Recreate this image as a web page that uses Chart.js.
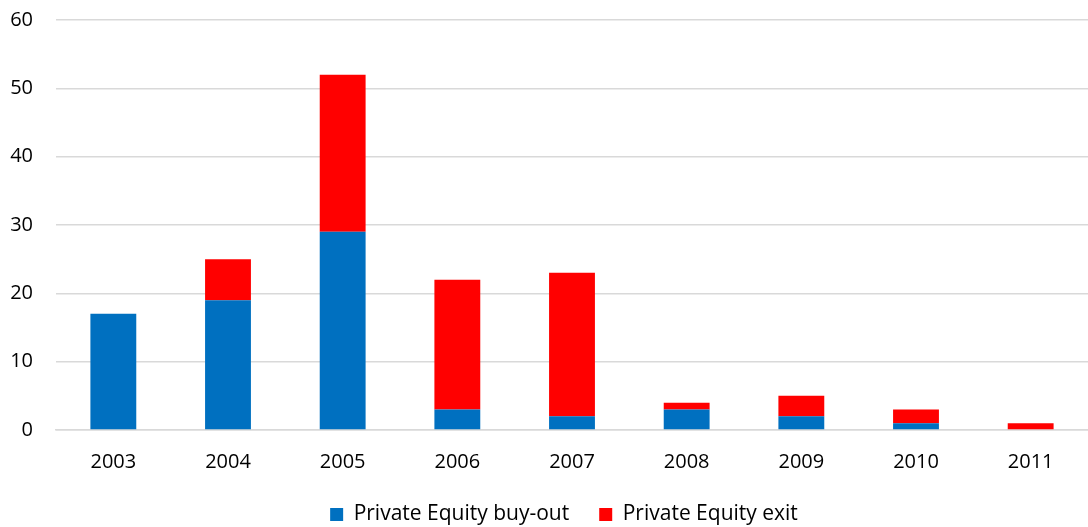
<!DOCTYPE html>
<html>
<head>
<meta charset="utf-8">
<script src="https://cdn.jsdelivr.net/npm/chart.js@4/dist/chart.umd.min.js"></script>
<style>
html,body{margin:0;padding:0;background:#fff;}
#wrap{width:1088px;height:527px;position:relative;}
</style>
</head>
<body>
<div id="wrap"><canvas id="c" width="1088" height="527"></canvas></div>
<script>
const years = ['2003','2004','2005','2006','2007','2008','2009','2010','2011'];
const buyout = [17, 19, 29, 3, 2, 3, 2, 1, 0];
const exitVals = [0, 6, 23, 19, 21, 1, 3, 2, 1];
const yTicks = [0, 10, 20, 30, 40, 50, 60];

const FONT = "'Open Sans', 'Liberation Sans', sans-serif";
Chart.defaults.font.family = FONT;
Chart.defaults.color = '#000';

const chart = new Chart(document.getElementById('c'), {
  type: 'bar',
  data: {
    labels: years,
    datasets: [
      {label: 'Private Equity buy-out', data: buyout, backgroundColor: '#0070C0', barPercentage: 0.4, categoryPercentage: 1.0},
      {label: 'Private Equity exit', data: exitVals, backgroundColor: '#FF0000', barPercentage: 0.4, categoryPercentage: 1.0}
    ]
  },
  options: {
    responsive: false,
    animation: false,
    layout: {padding: {top: 20, right: 0, left: 0, bottom: 0}},
    plugins: {
      legend: {
        position: 'bottom',
        labels: {boxWidth: 13, boxHeight: 13, padding: 30, font: {size: 21}, color: '#000'}
      },
      tooltip: {enabled: false}
    },
    scales: {
      x: {
        stacked: true,
        grid: {display: false, drawTicks: false},
        border: {display: true, color: '#d9d9d9', width: 1.5},
        ticks: {font: {size: 20}, padding: 20, color: '#000', maxRotation: 0, autoSkip: false},
        afterFit: (s) => { s.height = 44; }
      },
      y: {
        stacked: true,
        min: 0, max: 60,
        afterBuildTicks: (s) => { s.ticks = yTicks.map(v => ({value: v})); },
        afterFit: (s) => { s.width = 56; },
        grid: {color: '#d9d9d9', lineWidth: 1.5, drawTicks: true, tickLength: 23, tickColor: 'rgba(0,0,0,0)'},
        border: {display: false},
        ticks: {font: {size: 20}, padding: 0, color: '#000'}
      }
    }
  }
});
const lg = chart.legend;
const origFit = lg.fit;
lg.fit = function() {
  origFit.call(this);
  this.height = 53;
  if (this.lineWidths && this.lineWidths.length) this.lineWidths[0] -= 40;
};
chart.update();
</script>
</body>
</html>
